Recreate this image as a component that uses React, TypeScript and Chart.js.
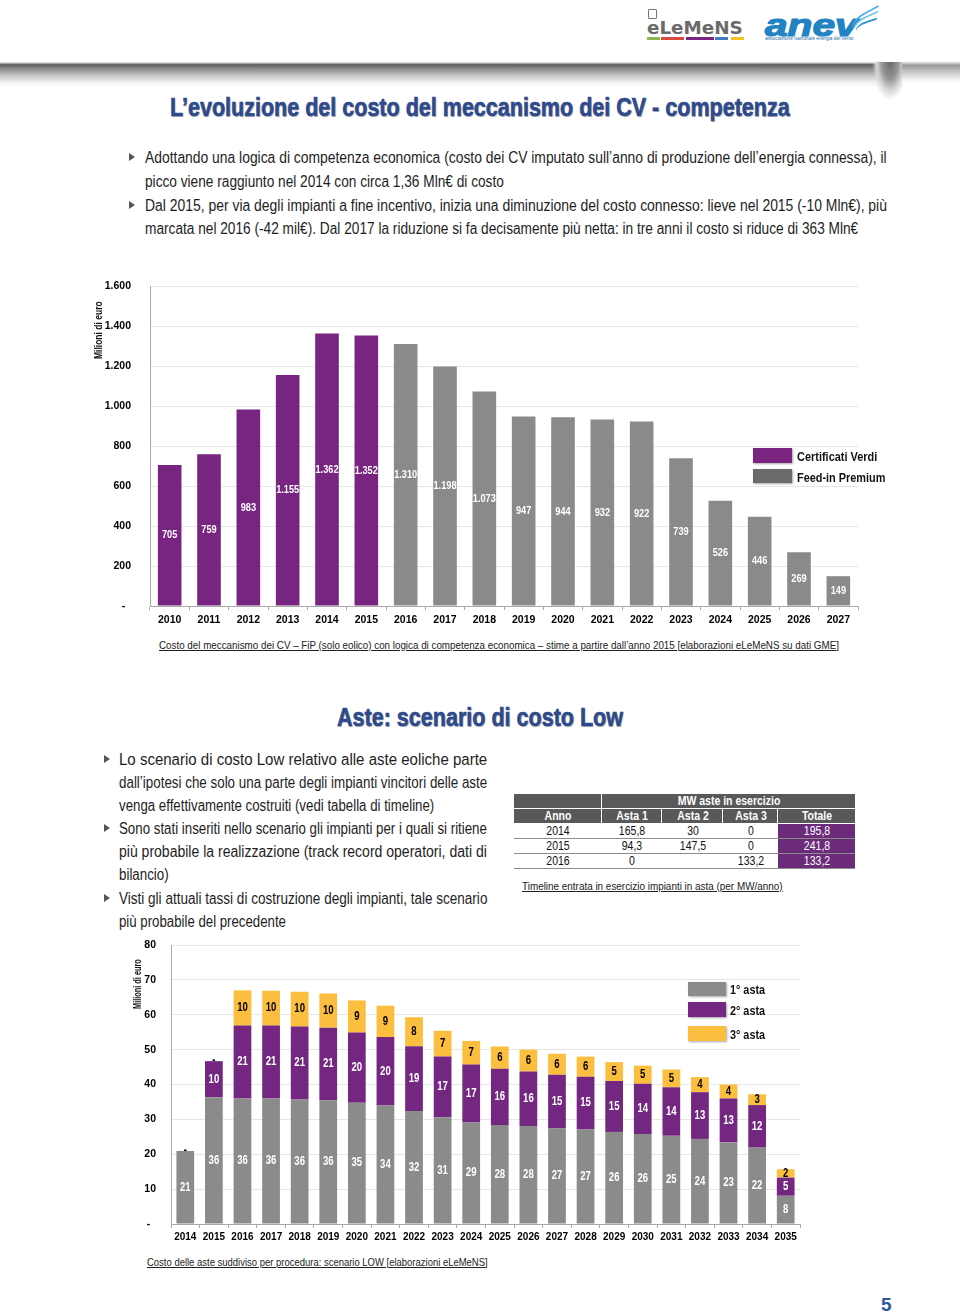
import React, { useEffect, useLayoutEffect, useRef } from 'react';
import { Chart, registerables } from 'chart.js';

Chart.register(...registerables);

const NARROW = '"Liberation Sans Narrow", "Arial Narrow", "Liberation Sans", Arial, sans-serif';
const BLUE_TITLE = '#2c4a8c';

// ---------- Chart 1 data: costo del meccanismo dei CV (Mln €) ----------
const years1 = ['2010', '2011', '2012', '2013', '2014', '2015', '2016', '2017', '2018', '2019', '2020', '2021', '2022', '2023', '2024', '2025', '2026', '2027'];
const certificatiVerdi = [705, 759, 983, 1155, 1362, 1352, null, null, null, null, null, null, null, null, null, null, null, null];
const feedInPremium = [null, null, null, null, null, null, 1310, 1198, 1073, 947, 944, 932, 922, 739, 526, 446, 269, 149];
const y1Max = 1600;
const y1Step = 200;

// ---------- Chart 2 data: costo delle aste, scenario LOW (Mln €) ----------
const years2 = ['2014', '2015', '2016', '2017', '2018', '2019', '2020', '2021', '2022', '2023', '2024', '2025', '2026', '2027', '2028', '2029', '2030', '2031', '2032', '2033', '2034', '2035'];
const asta1 = [20.9, 36.3, 36.0, 36.0, 35.7, 35.5, 34.8, 34.0, 32.4, 30.6, 29.1, 28.4, 28.1, 27.4, 27.1, 26.4, 25.8, 25.3, 24.4, 23.4, 21.9, 8.1];
const asta2 = [0, 10.4, 20.9, 20.9, 20.9, 20.8, 20.1, 19.6, 18.6, 17.4, 16.6, 16.1, 15.6, 15.4, 15.1, 14.6, 14.4, 13.9, 13.4, 12.6, 12.2, 5.2];
const asta3 = [0, 0, 10.1, 10.0, 10.0, 9.8, 9.2, 9.0, 8.3, 7.4, 6.8, 6.4, 6.3, 6.0, 5.8, 5.4, 5.2, 5.1, 4.3, 4.0, 3.1, 2.4];
const y2Max = 80;
const y2Step = 10;

// ---------- Table data: MW aste in esercizio ----------
const tableYears = ['2014', '2015', '2016'];
const tableAsta1 = ['165,8', '94,3', '0'];
const tableAsta2 = ['30', '147,5', ''];
const tableAsta3 = ['0', '0', '133,2'];
const tableTotale = ['195,8', '241,8', '133,2'];

// ---------- Text ----------
const title1 = 'L’evoluzione del costo del meccanismo dei CV - competenza';
const title2 = 'Aste: scenario di costo Low';
const bullets1 = [
  'Adottando una logica di competenza economica (costo dei CV imputato sull’anno di produzione dell’energia connessa), il',
  'picco viene raggiunto nel 2014 con circa 1,36 Mln€ di costo',
  'Dal 2015, per via degli impianti a fine incentivo, inizia una diminuzione del costo connesso: lieve nel 2015 (-10 Mln€), più',
  'marcata nel 2016 (-42 mil€). Dal 2017 la riduzione si fa decisamente più netta: in tre anni il costo si riduce di 363 Mln€',
];
const bullets2 = [
  'Lo scenario di costo Low relativo alle aste eoliche parte',
  'dall’ipotesi che solo una parte degli impianti vincitori delle aste',
  'venga effettivamente costruiti (vedi tabella di timeline)',
  'Sono stati inseriti nello scenario gli impianti per i quali si ritiene',
  'più probabile la realizzazione (track record operatori, dati di',
  'bilancio)',
  'Visti gli attuali tassi di costruzione degli impianti, tale scenario',
  'più probabile del precedente',
];
const caption1 = 'Costo del meccanismo dei CV – FiP (solo eolico) con logica di competenza economica – stime a partire dall’anno 2015  [elaborazioni eLeMeNS su dati GME]';
const caption2 = 'Timeline entrata in esercizio impianti in asta (per MW/anno)';
const caption3 = 'Costo delle aste suddiviso per procedura: scenario LOW [elaborazioni eLeMeNS]';

const PURPLE1 = '#782481';
const GRAY1 = '#8a8a8a';
const PURPLE2 = '#732780';
const GRAY2 = '#8b8b8b';
const YELLOW2 = '#fbbe3e';

function fmtThousands(v: number): string {
  const s = String(Math.round(v));
  return s.replace(/\B(?=(\d{3})+(?!\d))/g, '.');
}

type LineProps = {
  text: string; x: number; y: number; w?: number; size?: number; weight?: number | string;
  color?: string; family?: string; justify?: boolean; underline?: boolean; italic?: boolean; shadow?: string; stroke?: string;
};

function Line({ text, x, y, w, size = 15, weight = 400, color = '#1e1e1e', family = NARROW, justify = false, underline = false, italic = false, shadow, stroke }: LineProps) {
  const ref = useRef<HTMLSpanElement>(null);
  useLayoutEffect(() => {
    const el = ref.current;
    if (!el || !w) return;
    el.style.transform = '';
    el.style.wordSpacing = '';
    const nat = el.offsetWidth;
    if (!nat) return;
    const spaces = (text.match(/ /g) || []).length;
    if (justify && nat < w && spaces > 0) {
      el.style.wordSpacing = (w - nat) / spaces + 'px';
    } else {
      el.style.transform = `scaleX(${w / nat})`;
    }
  }, [text, w, justify]);
  const h = Math.round(size * 1.3);
  return (
    <div style={{ position: 'absolute', left: x, top: y - h / 2, height: h, lineHeight: h + 'px', whiteSpace: 'nowrap', fontFamily: family, fontSize: size, fontWeight: weight as any, color, fontStyle: italic ? 'italic' : 'normal', textShadow: shadow, WebkitTextStroke: stroke } as any}>
      <span ref={ref} style={{ display: 'inline-block', transformOrigin: 'left center', textDecoration: underline ? 'underline' : 'none' }}>{text}</span>
    </div>
  );
}

function VLine({ text, cx, cy, len, size }: { text: string; cx: number; cy: number; len: number; size: number }) {
  const ref = useRef<HTMLSpanElement>(null);
  useLayoutEffect(() => {
    const el = ref.current;
    if (!el) return;
    el.style.transform = '';
    const nat = el.offsetWidth;
    if (nat) el.style.transform = `scaleX(${len / nat})`;
  }, [text, len]);
  const h = Math.round(size * 1.3);
  return (
    <div style={{ position: 'absolute', left: cx, top: cy, width: 0, height: 0, transformOrigin: '0 0', transform: 'rotate(-90deg)' }}>
      <span ref={ref} style={{ position: 'absolute', left: -len / 2, top: -h / 2, height: h, lineHeight: h + 'px', whiteSpace: 'nowrap', fontFamily: NARROW, fontSize: size, fontWeight: 700, color: '#111', display: 'inline-block', transformOrigin: 'left center' }}>{text}</span>
    </div>
  );
}

function Bullet({ x, y }: { x: number; y: number }) {
  return <div style={{ position: 'absolute', left: x, top: y - 4, width: 0, height: 0, borderTop: '4px solid transparent', borderBottom: '4px solid transparent', borderLeft: '6px solid #555' }} />;
}

function Box({ x, y, w, h, color }: { x: number; y: number; w: number; h: number; color: string }) {
  return <div style={{ position: 'absolute', left: x, top: y, width: w, height: h, background: color, boxShadow: '1px 1px 2px rgba(0,0,0,0.35)' }} />;
}

function makeLabelPlugin(id: string, fontSize: number, colorFor: (i: number) => string, fmt: (v: number) => string) {
  return {
    id,
    afterDatasetsDraw(chart: any) {
      const ctx = chart.ctx;
      ctx.save();
      ctx.font = `bold ${fontSize}px ${NARROW}`;
      ctx.textAlign = 'center';
      ctx.textBaseline = 'middle';
      chart.data.datasets.forEach((ds: any, i: number) => {
        const meta = chart.getDatasetMeta(i);
        if (meta.hidden) return;
        meta.data.forEach((el: any, j: number) => {
          const v = ds.data[j];
          if (v == null) return;
          const p = el.getProps(['x', 'y', 'base'], true);
          const txt = fmt(v);
          const tw = ctx.measureText(txt).width;
          ctx.fillStyle = colorFor(i);
          ctx.fillText(txt, p.x, (p.y + p.base) / 2, tw * 0.8);
        });
      });
      ctx.restore();
    },
  };
}

function CostChart() {
  const ref = useRef<HTMLCanvasElement>(null);
  useEffect(() => {
    const chart = new Chart(ref.current!, {
      type: 'bar',
      data: {
        labels: years1,
        datasets: [
          { label: 'Certificati Verdi', data: certificatiVerdi as any, backgroundColor: PURPLE1, barPercentage: 0.6, categoryPercentage: 1 },
          { label: 'Feed-in Premium', data: feedInPremium as any, backgroundColor: GRAY1, barPercentage: 0.6, categoryPercentage: 1 },
        ],
      },
      options: {
        responsive: false,
        maintainAspectRatio: false,
        animation: false,
        layout: { padding: { top: 10, right: 12, left: 0, bottom: 0 } },
        plugins: { legend: { display: false }, tooltip: { enabled: false } },
        scales: {
          x: {
            stacked: true,
            grid: { display: true, drawOnChartArea: false, drawTicks: true, tickLength: 4, color: '#a8a8a8', offset: true },
            border: { color: '#a8a8a8' },
            ticks: { color: '#000', font: { family: NARROW, size: 10.5, weight: 'bold' }, padding: 4, maxRotation: 0, autoSkip: false },
            afterFit: (s: any) => { s.height = 30; },
          },
          y: {
            stacked: true,
            min: 0,
            max: y1Max,
            grid: { color: '#e6e6e6', drawTicks: true, tickLength: 19, tickColor: 'rgba(0,0,0,0)' },
            border: { color: '#a8a8a8' },
            ticks: {
              stepSize: y1Step,
              color: '#000',
              padding: 0,
              font: { family: NARROW, size: 10.5, weight: 'bold' },
              callback: (v: any) => (Number(v) === 0 ? '-  ' : fmtThousands(Number(v))),
            },
            afterFit: (s: any) => { s.width = 50; },
          },
        },
      } as any,
      plugins: [makeLabelPlugin('labels1', 11.5, () => '#ffffff', (v) => fmtThousands(v))],
    });
    return () => chart.destroy();
  }, []);
  return <canvas ref={ref} width={770} height={360} style={{ position: 'absolute', left: 100, top: 276, width: 770, height: 360 }} />;
}

function AsteChart() {
  const ref = useRef<HTMLCanvasElement>(null);
  useEffect(() => {
    const chart = new Chart(ref.current!, {
      type: 'bar',
      data: {
        labels: years2,
        datasets: [
          { label: '1° asta', data: asta1, backgroundColor: GRAY2, barPercentage: 0.62, categoryPercentage: 1 },
          { label: '2° asta', data: asta2, backgroundColor: PURPLE2, barPercentage: 0.62, categoryPercentage: 1 },
          { label: '3° asta', data: asta3, backgroundColor: YELLOW2, barPercentage: 0.62, categoryPercentage: 1 },
        ],
      },
      options: {
        responsive: false,
        maintainAspectRatio: false,
        animation: false,
        layout: { padding: { top: 10, right: 20, left: 0, bottom: 0 } },
        plugins: { legend: { display: false }, tooltip: { enabled: false } },
        scales: {
          x: {
            stacked: true,
            grid: { display: true, drawOnChartArea: false, drawTicks: true, tickLength: 4, color: '#a8a8a8', offset: true },
            border: { color: '#a8a8a8' },
            ticks: { color: '#000', font: { family: NARROW, size: 10, weight: 'bold' }, padding: 3, maxRotation: 0, autoSkip: false },
            afterFit: (s: any) => { s.height = 31; },
          },
          y: {
            stacked: true,
            min: 0,
            max: y2Max,
            grid: { color: '#e6e6e6', drawTicks: true, tickLength: 15, tickColor: 'rgba(0,0,0,0)' },
            border: { color: '#a8a8a8' },
            ticks: {
              stepSize: y2Step,
              color: '#000',
              padding: 0,
              font: { family: NARROW, size: 10.5, weight: 'bold' },
              callback: (v: any) => (Number(v) === 0 ? '-  ' : String(v)),
            },
            afterFit: (s: any) => { s.width = 51; },
          },
        },
      } as any,
      plugins: [makeLabelPlugin('labels2', 12, (i) => (i === 2 ? '#000000' : '#ffffff'), (v) => (v === 0 ? '-' : String(Math.round(v))))],
    });
    return () => chart.destroy();
  }, []);
  return <canvas ref={ref} width={700} height={320} style={{ position: 'absolute', left: 120, top: 935, width: 700, height: 320 }} />;
}

function Table() {
  const left = 514;
  const colX = [514, 602, 662, 723, 778, 855];
  const hdr = '#595959';
  const rowsTop = [823, 838, 853];
  const els: any[] = [];
  els.push(<div key="h1a" style={{ position: 'absolute', left: colX[0], top: 794, width: colX[1] - colX[0] - 1, height: 14, background: hdr }} />);
  els.push(<div key="h1b" style={{ position: 'absolute', left: colX[1], top: 794, width: colX[5] - colX[1], height: 14, background: hdr }} />);
  const heads = ['Anno', 'Asta 1', 'Asta 2', 'Asta 3', 'Totale'];
  heads.forEach((_, i) => {
    els.push(<div key={'h2' + i} style={{ position: 'absolute', left: colX[i], top: 809, width: colX[i + 1] - colX[i] - (i < 4 ? 1 : 0), height: 14, background: hdr }} />);
  });
  rowsTop.forEach((t, r) => {
    els.push(<div key={'tot' + r} style={{ position: 'absolute', left: colX[4], top: t + 1, width: colX[5] - colX[4], height: 14, background: '#6c2a7b' }} />);
    els.push(<div key={'rl' + r} style={{ position: 'absolute', left: left, top: t + 15, width: colX[5] - left, height: 1, background: '#8c8c8c' }} />);
  });
  const texts: any[] = [];
  const centerText = (key: string, txt: string, i0: number, i1: number, yc: number, bold: boolean, color: string) => {
    const cx = (colX[i0] + colX[i1]) / 2;
    texts.push(
      <div key={key} style={{ position: 'absolute', left: cx - 100, width: 200, top: yc - 8, height: 16, lineHeight: '16px', textAlign: 'center', whiteSpace: 'nowrap', fontFamily: NARROW, fontSize: 12.5, fontWeight: bold ? 700 : 400, color, transform: 'scaleX(0.84)', transformOrigin: 'center center' }}>{txt}</div>
    );
  };
  centerText('mw', 'MW aste in esercizio', 1, 5, 801, true, '#fff');
  heads.forEach((hh, i) => centerText('hd' + i, hh, i, i + 1, 816, true, '#fff'));
  tableYears.forEach((yv, r) => {
    const yc = rowsTop[r] + 8;
    centerText('y' + r, yv, 0, 1, yc, false, '#111');
    centerText('a1' + r, tableAsta1[r], 1, 2, yc, false, '#111');
    centerText('a2' + r, tableAsta2[r], 2, 3, yc, false, '#111');
    centerText('a3' + r, tableAsta3[r], 3, 4, yc, false, '#111');
    centerText('t' + r, tableTotale[r], 4, 5, yc, false, '#fff');
  });
  return <>{els}{texts}</>;
}

function Header() {
  const bars = [
    { x: 647, w: 13, c: '#8fb550' },
    { x: 661, w: 23, c: '#d9473f' },
    { x: 686, w: 28, c: '#7b2582' },
    { x: 715, w: 13, c: '#3f7fc1' },
    { x: 731, w: 13, c: '#f3c31d' },
  ];
  return (
    <>
      {/* eLeMeNS logo */}
      <div style={{ position: 'absolute', left: 648, top: 9, width: 7, height: 8, border: '1px solid #777', borderRadius: 1 }} />
      <Line text="eLeMeNS" x={647} y={28} w={96} size={17} weight={700} color="#6a6a6a" family='"DejaVu Sans", sans-serif' />
      {bars.map((b, i) => (
        <div key={i} style={{ position: 'absolute', left: b.x, top: 37, width: b.w, height: 3, background: b.c }} />
      ))}
      {/* anev logo */}
      <Line text="anev" x={765} y={26} w={93} size={31} weight={900} italic color="#2183c4" stroke="1.2px #2183c4" family='"Liberation Sans", Arial, sans-serif' />
      <Line text="associazione nazionale energia del vento" x={765} y={38.5} w={88} size={5} color="#2b6aa8" family='"Liberation Sans", Arial, sans-serif' />
      <div style={{ position: 'absolute', left: 850, top: 12, width: 34, height: 14, borderTop: '2px solid #55b1e3', borderRadius: '60% 0 0 0', transform: 'rotate(-28deg)' }} />
      <div style={{ position: 'absolute', left: 852, top: 16, width: 30, height: 12, borderTop: '2px solid #7cc6ec', borderRadius: '60% 0 0 0', transform: 'rotate(-24deg)' }} />
      <div style={{ position: 'absolute', left: 855, top: 21, width: 24, height: 10, borderTop: '2px solid #2f97d6', borderRadius: '60% 0 0 0', transform: 'rotate(-18deg)' }} />
      {/* gray band */}
      <div style={{ position: 'absolute', left: 0, top: 61, width: 885, height: 26, background: 'linear-gradient(to bottom, #ffffff 0%, #e0e0e0 6%, #5e5e5e 14%, #8a8a8a 30%, #c4c4c4 55%, #eeeeee 80%, #ffffff 100%)' }} />
      <div style={{ position: 'absolute', left: 870, top: 62, width: 40, height: 40, background: 'radial-gradient(ellipse 45% 95% at 50% 0%, #6a6a6a 0%, #959595 45%, #d8d8d8 75%, rgba(255,255,255,0) 100%)' }} />
      <div style={{ position: 'absolute', left: 902, top: 61, width: 58, height: 22, background: 'linear-gradient(to bottom, #ffffff 0%, #9a9a9a 20%, #c6c6c6 50%, #f2f2f2 85%, #ffffff 100%)' }} />
    </>
  );
}

export default function App() {
  const b1y = [157, 181, 205, 228];
  const b1w = [742, 359, 742, 713];
  const b2y = [759, 782, 805, 828, 851, 874, 898, 921];
  const b2w = [368, 368, 315, 368, 368, 50, 368, 167];
  const b2j = [true, true, false, true, true, false, true, false];
  return (
    <div style={{ position: 'absolute', left: 0, top: 0, width: 960, height: 1315, background: '#fff', overflow: 'hidden' }}>
      <Header />
      <Line text={title1} x={170} y={107} w={620} size={25} weight={700} color={BLUE_TITLE} stroke="0.6px #2c4a8c" shadow="1px 1px 1px rgba(0,0,0,0.3)" />
      <Bullet x={129} y={157} />
      <Bullet x={129} y={205} />
      {bullets1.map((t, i) => (
        <Line key={'b1' + i} text={t} x={145} y={b1y[i]} w={b1w[i]} size={16} />
      ))}

      <CostChart />
      <VLine text="Milioni di euro" cx={98} cy={330} len={58} size={11} />
      <Box x={753} y={448} w={39} h={15} color="#7b2583" />
      <Box x={753} y={469} w={39} h={14} color="#6b6b6b" />
      <Line text="Certificati Verdi" x={797} y={456} w={80} size={13} weight={700} color="#111" />
      <Line text="Feed-in Premium" x={797} y={477.5} w={88} size={13} weight={700} color="#111" />
      <Line text={caption1} x={159} y={645} w={680} size={11.5} underline color="#222" />

      <Line text={title2} x={337} y={717} w={286} size={25} weight={700} color={BLUE_TITLE} stroke="0.6px #2c4a8c" shadow="1px 1px 1px rgba(0,0,0,0.3)" />
      <Bullet x={104} y={759} />
      <Bullet x={104} y={828} />
      <Bullet x={104} y={898} />
      {bullets2.map((t, i) => (
        <Line key={'b2' + i} text={t} x={119} y={b2y[i]} w={b2w[i]} size={16} justify={b2j[i]} />
      ))}

      <Table />
      <Line text={caption2} x={522} y={886} w={261} size={11.5} underline color="#222" />

      <AsteChart />
      <VLine text="Milioni di euro" cx={137} cy={984} len={50} size={10} />
      <Box x={688} y={982} w={38} h={14} color={GRAY2} />
      <Box x={688} y={1002} w={38} h={15} color={PURPLE2} />
      <Box x={688} y={1026} w={38} h={15} color={YELLOW2} />
      <Line text="1° asta" x={730} y={989} w={35} size={13} weight={700} color="#111" />
      <Line text="2° asta" x={730} y={1010} w={35} size={13} weight={700} color="#111" />
      <Line text="3° asta" x={730} y={1034} w={35} size={13} weight={700} color="#111" />
      <Line text={caption3} x={147} y={1262} w={341} size={11.5} underline color="#222" />

      <Line text="5" x={881} y={1304} size={19} weight={700} color="#2a5a99" family='"Liberation Sans", Arial, sans-serif' />
    </div>
  );
}
